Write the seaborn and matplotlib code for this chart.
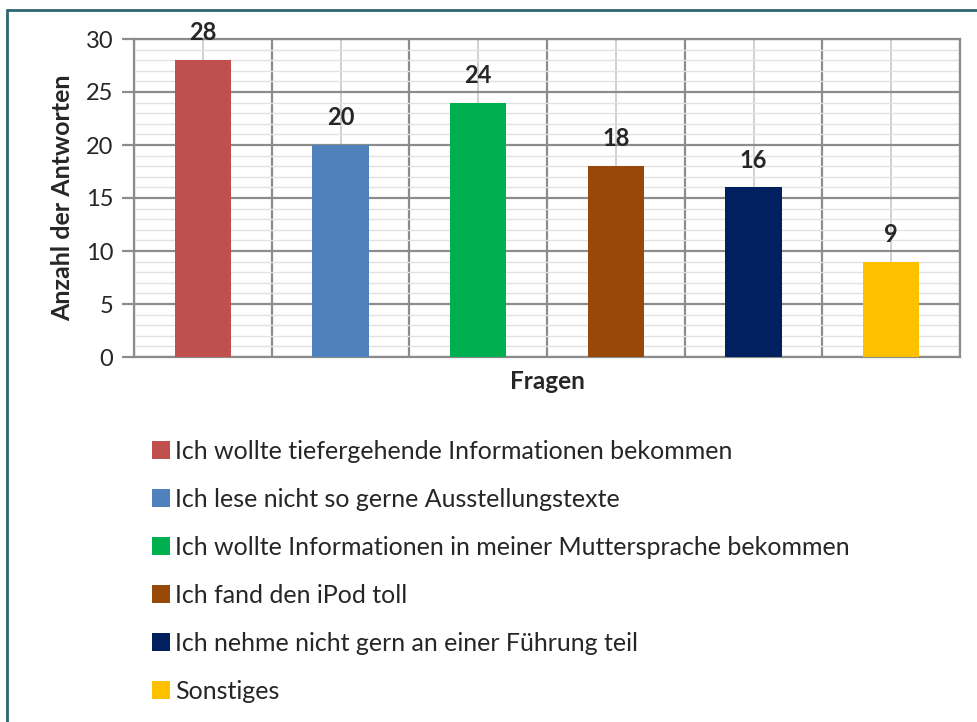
import matplotlib
matplotlib.use("Agg")
import matplotlib.pyplot as plt
import seaborn as sns
import pandas as pd
from matplotlib.patches import Patch
from matplotlib.lines import Line2D
from matplotlib.ticker import MultipleLocator, FixedLocator

# Daten
kategorien = [
    "Ich wollte tiefergehende Informationen bekommen",
    "Ich lese nicht so gerne Ausstellungstexte",
    "Ich wollte Informationen in meiner Muttersprache bekommen",
    "Ich fand den iPod toll",
    "Ich nehme nicht gern an einer Führung teil",
    "Sonstiges",
]
antworten = [28, 20, 24, 18, 16, 9]
farben = ["#C0504D", "#4F81BD", "#00B050", "#984807", "#002060", "#FFC000"]
y_ticks = [0, 5, 10, 15, 20, 25, 30]

df = pd.DataFrame({"Frage": kategorien, "Anzahl": antworten})

sns.set_style("white")
plt.rcParams["font.family"] = ["Lato", "DejaVu Sans"]

fig = plt.figure(figsize=(9.78, 7.22), dpi=100)
ax = fig.add_axes([134 / 978, 1 - 357 / 722, (960 - 134) / 978, (357 - 39) / 722])

sns.barplot(data=df, x="Frage", y="Anzahl", hue="Frage", palette=farben,
            width=0.41, legend=False, ax=ax, saturation=1, linewidth=0, zorder=3)

ax.set_ylim(0, 30)
ax.set_xlim(-0.5, len(kategorien) - 0.5)
ax.yaxis.set_major_locator(FixedLocator(y_ticks))
ax.yaxis.set_minor_locator(MultipleLocator(1))
ax.xaxis.set_major_locator(FixedLocator([i + 0.5 for i in range(-1, len(kategorien))]))
ax.xaxis.set_minor_locator(FixedLocator(list(range(len(kategorien)))))
ax.set_xticklabels([])

# Gitterlinien wie in Excel
ax.grid(which="major", axis="both", color="#8c8c8c", linewidth=1.6, zorder=0)
ax.grid(which="minor", axis="y", color="#e2e2e2", linewidth=1.0, zorder=0)
ax.grid(which="minor", axis="x", color="#c8c8c8", linewidth=1.2, zorder=0)
ax.set_axisbelow(True)
for s in ax.spines.values():
    s.set_color("#8c8c8c")
    s.set_linewidth(1.6)

ax.tick_params(axis="y", which="major", length=9, width=1.6, color="#8c8c8c",
               labelsize=17, pad=6, left=True)
ax.tick_params(axis="y", which="minor", length=0)
ax.tick_params(axis="x", which="both", length=0)

ax.set_ylabel("Anzahl der Antworten", fontsize=18, fontweight="bold", labelpad=8)
ax.set_xlabel("Fragen", fontsize=17.5, fontweight="bold", labelpad=6)

# Werte über den Balken
for i, v in enumerate(antworten):
    ax.text(i, v + 1.5, str(v), ha="center", va="bottom", fontsize=17, fontweight="bold")

# Legende
handles = [Patch(facecolor=c, edgecolor="none") for c in farben]
fig.legend(handles, kategorien, loc="upper left", bbox_to_anchor=(142 / 978, 1 - 430 / 722),
           frameon=False, fontsize=18, handlelength=0.72, handleheight=0.72,
           handletextpad=0.2, labelspacing=1.0, borderaxespad=0)

# Rahmen (oben und links)
fig.add_artist(Line2D([7 / 978, 1], [1 - 9.5 / 722] * 2, color="#2F6472", lw=2,
                      transform=fig.transFigure))
fig.add_artist(Line2D([7.5 / 978] * 2, [0, 1 - 9.5 / 722], color="#2F6472", lw=2,
                      transform=fig.transFigure))

plt.savefig("out.png", dpi=100)
plt.close()
